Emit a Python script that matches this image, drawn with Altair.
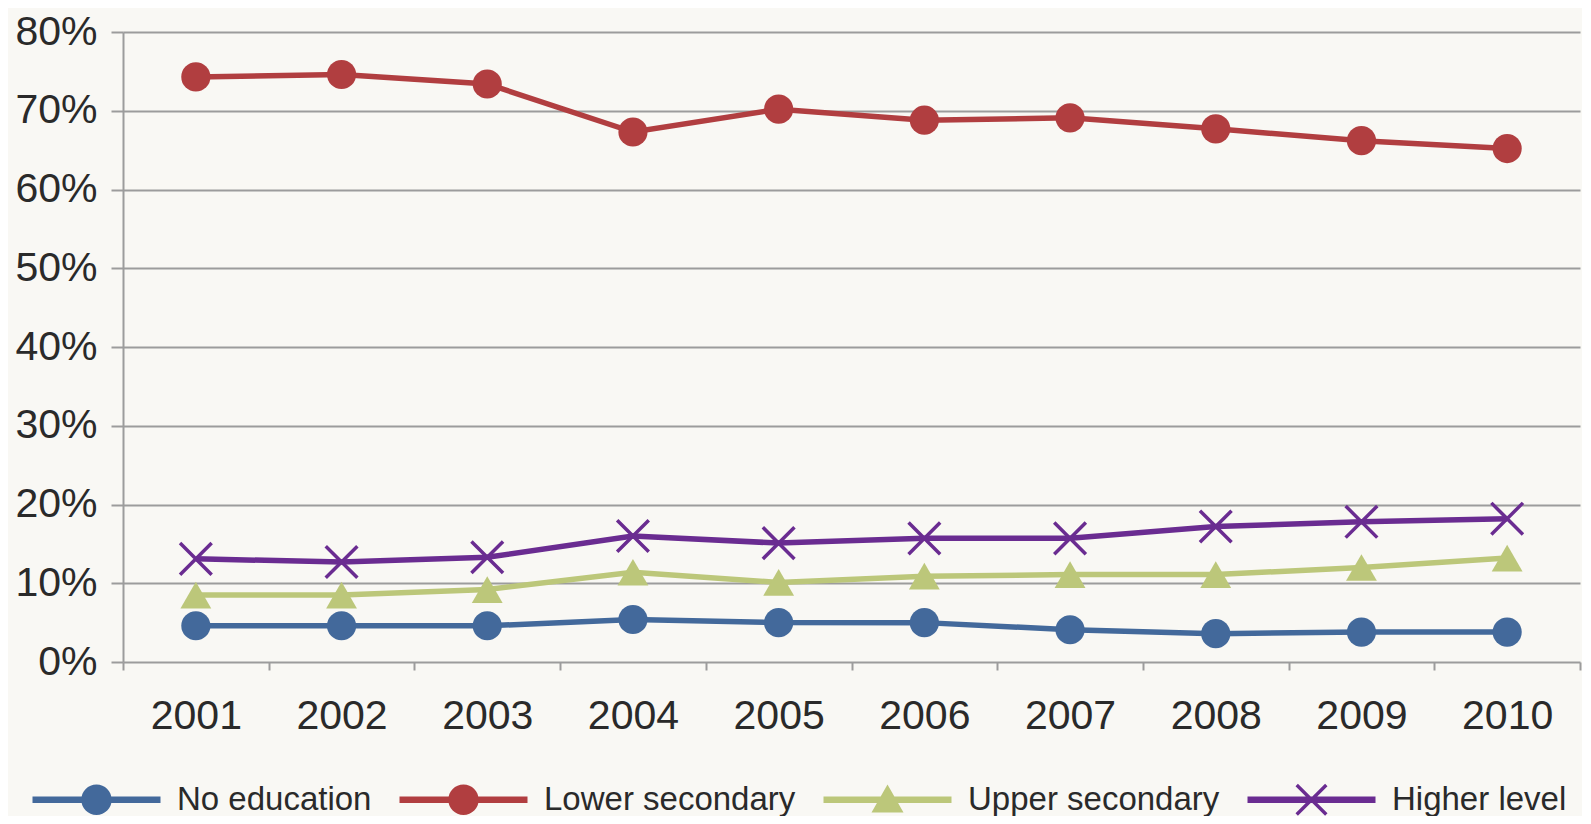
import altair as alt
import pandas as pd

years = [2001, 2002, 2003, 2004, 2005, 2006, 2007, 2008, 2009, 2010]
series_names = ["No education", "Lower secondary", "Upper secondary", "Higher level"]
no_education = [4.6, 4.6, 4.6, 5.4, 5.0, 5.0, 4.1, 3.6, 3.8, 3.8]
lower_secondary = [74.3, 74.6, 73.4, 67.3, 70.2, 68.8, 69.1, 67.7, 66.2, 65.2]
upper_secondary = [8.5, 8.5, 9.2, 11.4, 10.1, 10.9, 11.1, 11.1, 12.0, 13.2]
higher_level = [13.1, 12.7, 13.3, 16.0, 15.1, 15.7, 15.7, 17.2, 17.8, 18.2]
y_ticks = [0, 10, 20, 30, 40, 50, 60, 70, 80]

colors = ["#43699b", "#b13e40", "#bcc77a", "#6a2c91"]

rows = []
for name, vals in zip(series_names, [no_education, lower_secondary, upper_secondary, higher_level]):
    for yr, v in zip(years, vals):
        rows.append({"year": str(yr), "value": v, "series": name})
df = pd.DataFrame(rows)

# legend symbol paths: line + marker (unit coords scaled by sqrt(size)/2)
line_rect = "M-4,-0.2 L4,-0.2 L4,0.2 L-4,0.2 Z "
circle_p = "M-0.95,0 A0.95,0.95 0 1,1 0.95,0 A0.95,0.95 0 1,1 -0.95,0 Z"
tri_p = "M0,-0.95 L1,0.8 L-1,0.8 Z"
x_p = "M-1,-0.85 L-0.85,-1 L1,0.85 L0.85,1 Z M1,-0.85 L-0.85,1 L-1,0.85 L0.85,-1 Z"
legend_paths = [line_rect + circle_p, line_rect + circle_p, line_rect + tri_p, line_rect + x_p]

leg = alt.Legend(title=None, orient="none", direction="horizontal", legendX=-91, legendY=751,
                 symbolSize=1024, symbolOffset=48, labelOffset=64, columnPadding=27,
                 symbolStrokeWidth=0, labelFont="Liberation Sans", labelFontSize=33,
                 labelLimit=0, labelColor="#2a2a2a", padding=0, columns=4)

color_scale = alt.Scale(domain=series_names, range=colors)
color_enc = alt.Color("series:N", scale=color_scale, legend=leg)

x_enc = alt.X("year:O", scale=alt.Scale(type="band", paddingInner=0, paddingOuter=0),
              axis=alt.Axis(title=None, labelAngle=0, tickBand="extent", domain=False,
                            grid=False, ticks=True, tickSize=8, tickColor="#9c9c9c",
                            tickWidth=2, labelFontSize=41, labelFont="Liberation Sans",
                            labelColor="#2a2a2a", labelPadding=26))
y_enc = alt.Y("value:Q", scale=alt.Scale(domain=[0, 80], nice=False),
              axis=alt.Axis(title=None, values=y_ticks, labelExpr="datum.value + '%'",
                            grid=True, gridColor="#9c9c9c", gridWidth=2,
                            domain=True, domainColor="#9c9c9c", domainWidth=2,
                            tickSize=12, tickColor="#9c9c9c", tickWidth=2,
                            labelFontSize=41, labelFont="Liberation Sans",
                            labelColor="#2a2a2a", labelPadding=14))

base = alt.Chart(df).encode(x=x_enc, y=y_enc)

lines = base.mark_line(strokeWidth=5.5).encode(color=color_enc, detail="series:N")

circles = base.transform_filter(
    alt.FieldOneOfPredicate(field="series", oneOf=["No education", "Lower secondary"])
).mark_point(shape="circle", filled=True, size=850, opacity=1).encode(color=color_enc)

triangles = base.transform_filter(
    alt.FieldEqualPredicate(field="series", equal="Upper secondary")
).mark_point(shape="triangle-up", filled=True, size=950, opacity=1).encode(color=color_enc)

crosses = base.transform_filter(
    alt.FieldEqualPredicate(field="series", equal="Higher level")
).mark_point(shape="M-1,-1L1,1M-1,1L1,-1", filled=False, size=1000, strokeWidth=3.5,
             opacity=1).encode(color=color_enc)

legend_layer = base.transform_filter("false").mark_point(filled=True, opacity=1).encode(
    color=color_enc,
    shape=alt.Shape("series:N", scale=alt.Scale(domain=series_names, range=legend_paths),
                    legend=leg),
)

chart = alt.layer(lines, circles, triangles, crosses, legend_layer).properties(
    width=1457, height=630,
    background="#f9f8f4",
    padding={"left": 115, "top": 24, "right": 2, "bottom": 154},
    autosize=alt.AutoSizeParams(type="none"),
).configure_view(stroke=None)

chart.save("out.html", embed_options={"renderer": "svg", "actions": False})
